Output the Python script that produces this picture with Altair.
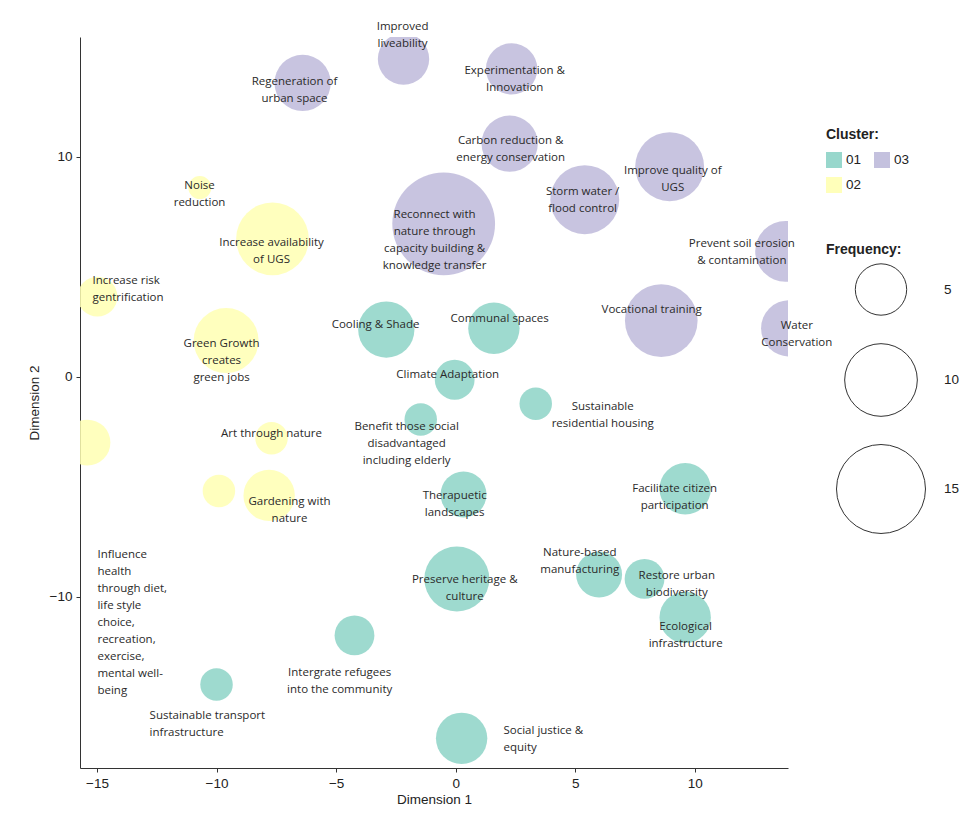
import altair as alt
import pandas as pd

labels = [
    "Improved\nliveability", "Regeneration of\nurban space", "Experimentation &\nInnovation",
    "Carbon reduction &\nenergy conservation",
    "Reconnect with\nnature through\ncapacity building &\nknowledge transfer",
    "Storm water /\nflood control", "Improve quality of\nUGS", "Prevent soil erosion\n& contamination",
    "Vocational training", "Water\nConservation",
    "Cooling & Shade", "Communal spaces", "Climate Adaptation",
    "Benefit those social\ndisadvantaged\nincluding elderly",
    "Sustainable\nresidential housing", "Therapuetic\nlandscapes", "Facilitate citizen\nparticipation",
    "Preserve heritage &\nculture", "Nature-based\nmanufacturing", "Restore urban\nbiodiversity",
    "Ecological\ninfrastructure", "Social justice &\nequity", "Intergrate refugees\ninto the community",
    "Sustainable transport\ninfrastructure",
    "Noise\nreduction", "Increase availability\nof UGS", "Increase risk\ngentrification",
    "Green Growth\ncreates\ngreen jobs", "Art through nature",
    "Influence\nhealth\nthrough diet,\nlife style\nchoice,\nrecreation,\nexercise,\nmental well-\nbeing",
    "Gardening with\nnature", "",
]
cluster = ["03"] * 10 + ["01"] * 14 + ["02"] * 8
dim1 = [-2.18, -6.4, 2.34, 2.26, -0.5, 5.4, 8.95, 13.8, 8.6, 13.95,
        -2.9, 1.6, -0.04, -1.46, 3.35, 0.33, 9.6, 0.05, 6.0, 7.9, 9.6, 0.25, -4.23, -10.0,
        -10.7, -7.66, -14.98, -9.6, -7.7, -15.4, -7.8, -9.9]
dim2 = [14.45, 13.36, 14.0, 10.6, 6.95, 8.05, 9.55, 5.7, 2.55, 2.2,
        2.14, 2.2, -0.14, -1.95, -1.23, -5.36, -5.1, -9.2, -9.0, -9.2, -10.95, -16.45, -11.77, -14.0,
        8.6, 6.27, 3.64, 1.64, -2.8, -3.0, -5.4, -5.2]
freq = [5, 6, 5, 6, 20, 9, 9, 7, 10, 6,
        6, 5, 3, 2, 2, 4, 5, 8, 4, 3, 5, 5, 3, 2,
        1, 10, 3, 8, 2, 4, 5, 2]
label_x = [-2.22, -6.74, 2.47, 2.30, -0.88, 5.31, 9.08, 11.97, 8.2, 14.27,
           -3.35, 1.84, -0.33, -2.05, 6.15, -0.04, 9.16, 0.38, 5.19, 9.25, 9.62, 2.0, -4.85, -12.8,
           -10.71, -7.7, -15.19, -9.79, -7.7, -14.98, -6.95, -9.9]
label_y = [15.9, 13.4, 13.9, 10.7, 7.36, 8.4, 9.36, 6.05, 3.05, 2.32,
           2.36, 2.64, 0.09, -2.27, -1.36, -5.41, -5.09, -9.27, -8.0, -9.05, -11.4, -16.1, -13.5, -15.43,
           8.68, 6.09, 4.36, 1.5, -2.59, -8.09, -5.7, -5.2]
anchor = ["c"] * 21 + ["l", "c", "l", "c", "c", "l", "c", "c", "l", "c", "c"]

df = pd.DataFrame(dict(label=labels, cluster=cluster, dim1=dim1, dim2=dim2, freq=freq,
                       lx=label_x, ly=label_y, anchor=anchor))

xscale = alt.Scale(domain=[-15.71, 13.9], nice=False, zero=False)
yscale = alt.Scale(domain=[-17.8, 15.45], nice=False, zero=False)

xaxis = alt.Axis(values=[-15, -10, -5, 0, 5, 10], grid=False, tickSize=4, labelPadding=4,
                 titlePadding=3, labelFontSize=13.5, titleFontSize=13.5, titleFontWeight="normal",
                 labelFont="Liberation Sans", titleFont="Liberation Sans",
                 domainColor="#333", tickColor="#333", labelColor="#222", titleColor="#222")
yaxis = alt.Axis(values=[-10, 0, 10], grid=False, tickSize=4, labelPadding=4,
                 titlePadding=8, labelFontSize=13.5, titleFontSize=13.5, titleFontWeight="normal",
                 labelFont="Liberation Sans", titleFont="Liberation Sans",
                 domainColor="#333", tickColor="#333", labelColor="#222", titleColor="#222")

bubbles = alt.Chart(df).mark_circle(opacity=0.85, clip=True).encode(
    x=alt.X("dim1:Q", scale=xscale, axis=xaxis, title="Dimension 1"),
    y=alt.Y("dim2:Q", scale=yscale, axis=yaxis, title="Dimension 2"),
    color=alt.Color("cluster:N",
                    scale=alt.Scale(domain=["01", "02", "03"], range=["#8DD3C7", "#FFFFB3", "#BEBADA"]),
                    legend=alt.Legend(title="Cluster:", orient="none", legendX=746, legendY=91,
                                      columns=2, columnPadding=12, rowPadding=9,
                                      symbolType="square", symbolSize=256, symbolOpacity=0.9,
                                      symbolStrokeWidth=0,
                                      labelFontSize=13.5, labelFont="Liberation Sans",
                                      titleFontSize=14, titleFont="Liberation Sans",
                                      titleFontWeight="bold", titlePadding=10, padding=0,
                                      labelColor="#222", titleColor="#222")),
    size=alt.Size("freq:Q", scale=alt.Scale(domain=[0, 20], range=[0, 10560]),
                  legend=alt.Legend(title="Frequency:", orient="none", legendX=746, legendY=206,
                                    values=[5, 10, 15], symbolFillColor="white",
                                    symbolStrokeColor="#333", symbolStrokeWidth=1,
                                    symbolOpacity=1, rowPadding=23, labelOffset=18,
                                    symbolOffset=10,
                                    labelFontSize=13.5, labelFont="Liberation Sans",
                                    titleFontSize=14, titleFont="Liberation Sans",
                                    titleFontWeight="bold", titlePadding=6, padding=0,
                                    labelColor="#222", titleColor="#222")),
    order=alt.Order("freq:Q", sort="descending"),
)

text_props = dict(baseline="middle", lineBreak="\n", fontSize=11.5, font="Open Sans",
                  color="#2a2a2a", lineHeight=17)

center_text = alt.Chart(df).transform_filter(alt.datum.anchor == "c").mark_text(
    align="center", **text_props).encode(
    x=alt.X("lx:Q", scale=xscale, title="Dimension 1"),
    y=alt.Y("ly:Q", scale=yscale, title="Dimension 2"),
    text="label:N",
)
left_text = alt.Chart(df).transform_filter(alt.datum.anchor == "l").mark_text(
    align="left", **text_props).encode(
    x=alt.X("lx:Q", scale=xscale, title="Dimension 1"),
    y=alt.Y("ly:Q", scale=yscale, title="Dimension 2"),
    text="label:N",
)

chart = alt.layer(bubbles, center_text, left_text).properties(
    width=708, height=731,
    autosize=alt.AutoSizeParams(type="none"),
    padding={"left": 72, "top": 29, "right": 176, "bottom": 42},
    background="white",
).configure_view(stroke=None)

chart.save("out.html", embed_options={"renderer": "svg", "actions": False})
